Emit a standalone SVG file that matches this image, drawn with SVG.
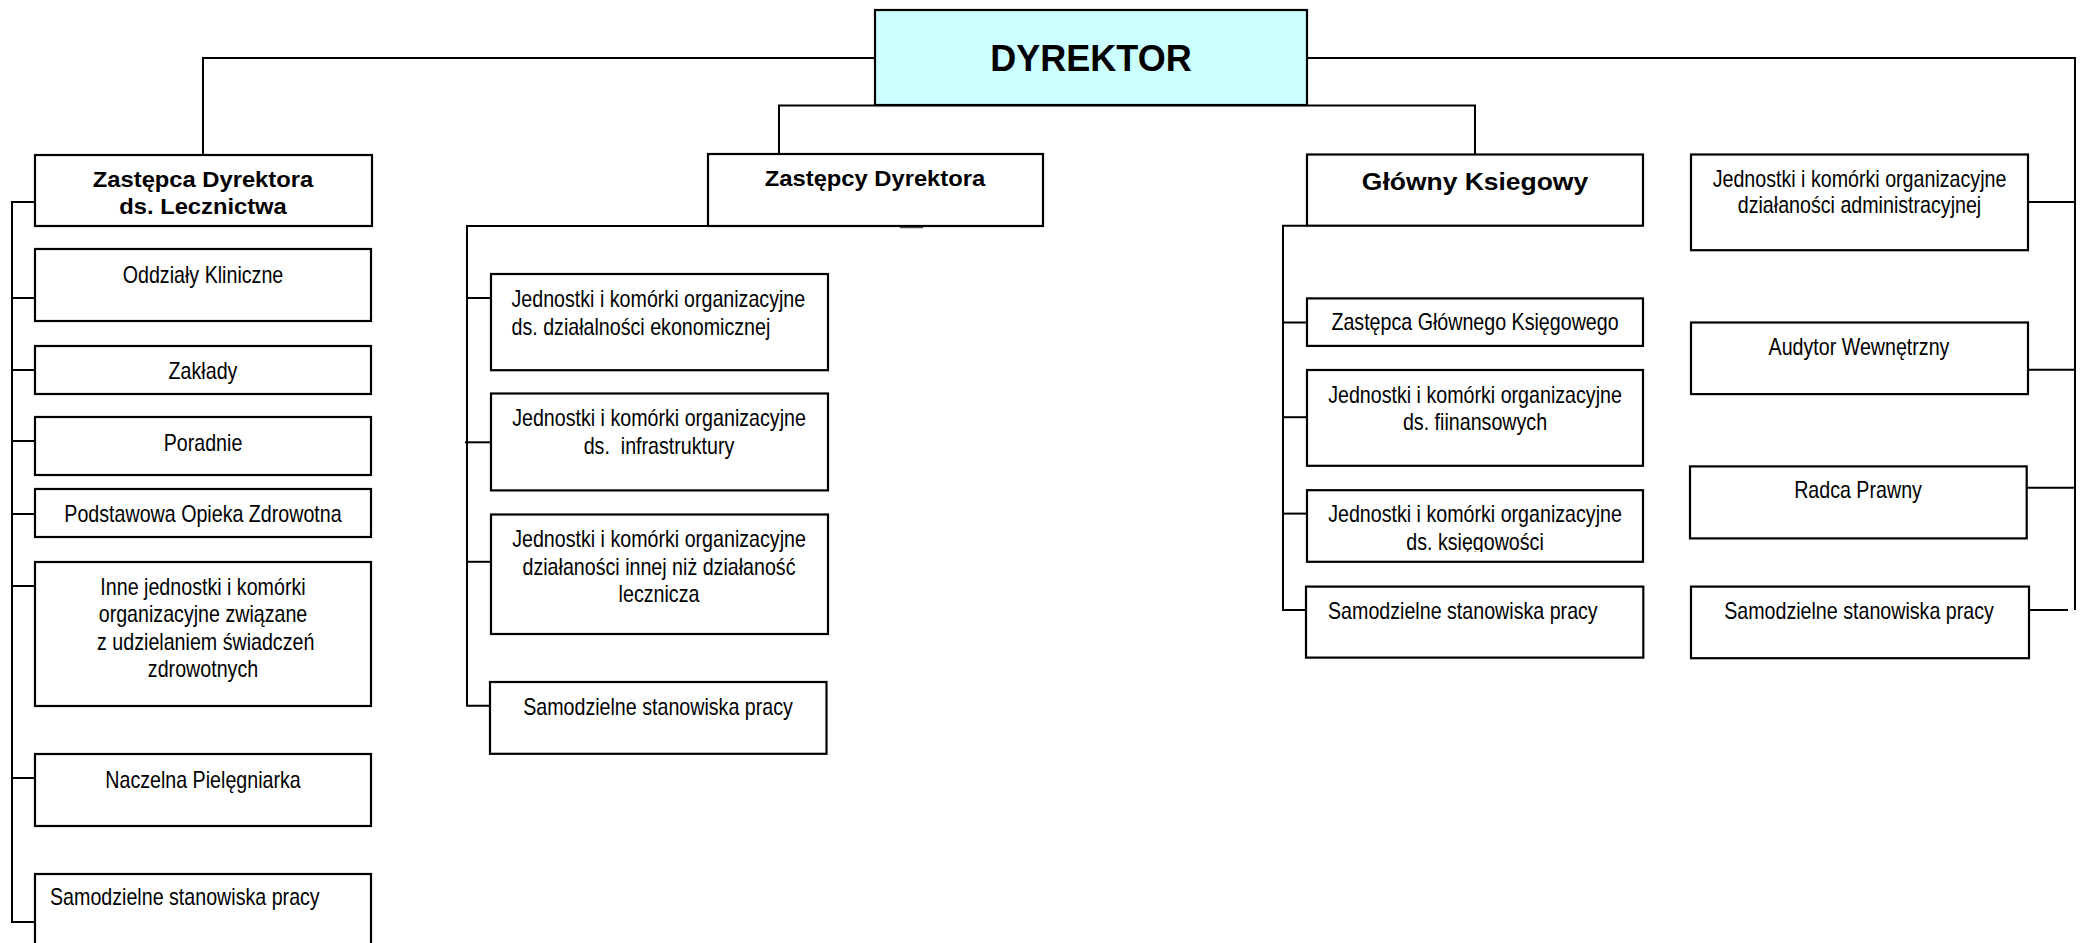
<svg xmlns="http://www.w3.org/2000/svg" width="2083" height="943" viewBox="0 0 2083 943">
<style>
.bg{fill:#fff}
.box{fill:#fff;stroke:#000;stroke-width:2.2}
.dir{fill:#ccffff;stroke:#000;stroke-width:2.2}
.ln{stroke:#000;stroke-width:2;fill:none}
.t{font-family:"Liberation Sans",Arial,sans-serif;font-size:23px;fill:#000}
.c{text-anchor:middle}
.s{text-anchor:start}
.b{font-family:"Liberation Sans",Arial,sans-serif;font-weight:bold;font-size:22px;fill:#000;text-anchor:middle}
</style>
<defs>
<clipPath id="clipKs"><rect x="1307" y="490" width="336" height="62"/></clipPath>
</defs>
<rect class="bg" x="0" y="0" width="2083" height="943"/>

<g id="connectors">
<polyline class="ln" points="203,155 203,58 875,58"/>
<polyline class="ln" points="1307,58 2075,58 2075,610"/>
<polyline class="ln" points="779,154 779,105.5 1475,105.5 1475,154"/>
<polyline class="ln" points="35,202 12,202 12,922 35,922"/>
<line class="ln" x1="12" y1="298" x2="35" y2="298"/>
<line class="ln" x1="12" y1="370" x2="35" y2="370"/>
<line class="ln" x1="12" y1="441" x2="35" y2="441"/>
<line class="ln" x1="12" y1="514" x2="35" y2="514"/>
<line class="ln" x1="12" y1="586" x2="35" y2="586"/>
<line class="ln" x1="12" y1="778" x2="35" y2="778"/>
<polyline class="ln" points="708,226 467,226 467,705.7 490,705.7"/>
<line class="ln" x1="467" y1="298" x2="491" y2="298"/>
<line class="ln" x1="465" y1="442.3" x2="491" y2="442.3"/>
<line class="ln" x1="467" y1="561.8" x2="491" y2="561.8"/>
<line x1="900" y1="227" x2="923" y2="227" stroke="#555" stroke-width="2.5"/>
<polyline class="ln" points="1307,225.7 1283,225.7 1283,610 1306,610"/>
<line class="ln" x1="1283" y1="322.5" x2="1307" y2="322.5"/>
<line class="ln" x1="1283" y1="417.2" x2="1307" y2="417.2"/>
<line class="ln" x1="1283" y1="513.6" x2="1307" y2="513.6"/>
<line class="ln" x1="2028" y1="202" x2="2075" y2="202"/>
<line class="ln" x1="2028" y1="369.7" x2="2075" y2="369.7"/>
<line class="ln" x1="2027" y1="487.8" x2="2075" y2="487.8"/>
<line class="ln" x1="2029" y1="610" x2="2068" y2="610"/>
</g>

<g id="dyrektor">
<rect class="dir" x="875" y="10" width="432" height="95"/>
<text class="b" x="1091" y="71" style="font-size:36px">DYREKTOR</text>
</g>

<g id="zastepca-lecznictwa">
<rect class="box" x="35" y="155" width="337" height="71"/>
<text class="b" transform="translate(203,187) scale(1.08,1)"><tspan x="0" y="0">Zastępca Dyrektora</tspan><tspan x="0" y="26.6">ds. Lecznictwa</tspan></text>
</g>
<g id="oddzialy">
<rect class="box" x="35" y="249" width="336" height="72"/>
<text class="t c" transform="translate(203,283) scale(0.855,1)">Oddziały Kliniczne</text>
</g>
<g id="zaklady">
<rect class="box" x="35" y="346" width="336" height="48"/>
<text class="t c" transform="translate(203,379) scale(0.855,1)">Zakłady</text>
</g>
<g id="poradnie">
<rect class="box" x="35" y="417" width="336" height="58"/>
<text class="t c" transform="translate(203,451) scale(0.855,1)">Poradnie</text>
</g>
<g id="poz">
<rect class="box" x="35" y="489" width="336" height="48"/>
<text class="t c" transform="translate(203,521.5) scale(0.855,1)">Podstawowa Opieka Zdrowotna</text>
</g>
<g id="inne">
<rect class="box" x="35" y="562" width="336" height="144"/>
<text class="t c" transform="translate(203,595) scale(0.855,1)"><tspan x="0" y="0">Inne jednostki i komórki</tspan><tspan x="0" y="27.5">organizacyjne związane</tspan><tspan x="0" y="55"> z udzielaniem świadczeń</tspan><tspan x="0" y="82">zdrowotnych</tspan></text>
</g>
<g id="naczelna">
<rect class="box" x="35" y="754" width="336" height="72"/>
<text class="t c" transform="translate(203,788) scale(0.855,1)">Naczelna Pielęgniarka</text>
</g>
<g id="samodzielne-lecz">
<rect class="box" x="35" y="874" width="336" height="90"/>
<text class="t s" transform="translate(50,905) scale(0.855,1)">Samodzielne stanowiska pracy</text>
</g>

<g id="zastepcy-dyrektora">
<rect class="box" x="708" y="154" width="335" height="72"/>
<text class="b" transform="translate(875,186) scale(1.08,1)">Zastępcy Dyrektora</text>
</g>
<g id="ekonomiczna">
<rect class="box" x="491" y="274" width="337" height="96.2"/>
<text class="t s" transform="translate(511.5,307.3) scale(0.855,1)"><tspan x="0" y="0">Jednostki i komórki organizacyjne</tspan><tspan x="0" y="27.7">ds. działalności ekonomicznej</tspan></text>
</g>
<g id="infrastruktura">
<rect class="box" x="491" y="393.5" width="337" height="96.9"/>
<text class="t c" transform="translate(659,426.4) scale(0.855,1)"><tspan x="0" y="0">Jednostki i komórki organizacyjne</tspan><tspan x="0" y="28.1" xml:space="preserve">ds.  infrastruktury</tspan></text>
</g>
<g id="inna-dzialalnosc">
<rect class="box" x="491" y="514.5" width="337" height="119.5"/>
<text class="t c" transform="translate(659,547) scale(0.855,1)"><tspan x="0" y="0">Jednostki i komórki organizacyjne</tspan><tspan x="0" y="27.8">działaności innej niż działaność</tspan><tspan x="0" y="55.1">lecznicza</tspan></text>
</g>
<g id="samodzielne-zast">
<rect class="box" x="490" y="682" width="336.5" height="71.8"/>
<text class="t c" transform="translate(658,715.4) scale(0.855,1)">Samodzielne stanowiska pracy</text>
</g>

<g id="glowny-ksiegowy">
<rect class="box" x="1307" y="154.5" width="336" height="71.2"/>
<text class="b" transform="translate(1475,190) scale(1.08,1)" style="font-size:24.5px">Główny Ksiegowy</text>
</g>
<g id="zastepca-gk">
<rect class="box" x="1307" y="298.4" width="336" height="47.5"/>
<text class="t c" transform="translate(1475,330.4) scale(0.855,1)">Zastępca Głównego Księgowego</text>
</g>
<g id="finansowe">
<rect class="box" x="1307" y="370" width="336" height="95.8"/>
<text class="t c" transform="translate(1475,403.4) scale(0.855,1)"><tspan x="0" y="0">Jednostki i komórki organizacyjne</tspan><tspan x="0" y="26.9">ds. fiinansowych</tspan></text>
</g>
<g id="ksiegowosc">
<rect class="box" x="1307" y="490.2" width="336" height="71.6"/>
<g clip-path="url(#clipKs)">
<text class="t c" transform="translate(1475,522.2) scale(0.855,1)"><tspan x="0" y="0">Jednostki i komórki organizacyjne</tspan><tspan x="0" y="27.6">ds. księgowości</tspan></text>
</g>
</g>
<g id="samodzielne-gk">
<rect class="box" x="1306" y="586.6" width="337.3" height="71"/>
<text class="t s" transform="translate(1328,618.7) scale(0.855,1)">Samodzielne stanowiska pracy</text>
</g>

<g id="administracja">
<rect class="box" x="1691" y="154.5" width="337" height="95.7"/>
<text class="t c" transform="translate(1859.5,186.5) scale(0.855,1)"><tspan x="0" y="0">Jednostki i komórki organizacyjne</tspan><tspan x="0" y="26.5">działaności administracyjnej</tspan></text>
</g>
<g id="audytor">
<rect class="box" x="1691" y="322.5" width="337" height="71.6"/>
<text class="t c" transform="translate(1859,355.2) scale(0.855,1)">Audytor Wewnętrzny</text>
</g>
<g id="radca">
<rect class="box" x="1690" y="466.4" width="336.7" height="72"/>
<text class="t c" transform="translate(1858,498.1) scale(0.855,1)">Radca Prawny</text>
</g>
<g id="samodzielne-dyr">
<rect class="box" x="1691" y="586.6" width="338" height="71.6"/>
<text class="t c" transform="translate(1859,618.7) scale(0.855,1)">Samodzielne stanowiska pracy</text>
</g>
</svg>
